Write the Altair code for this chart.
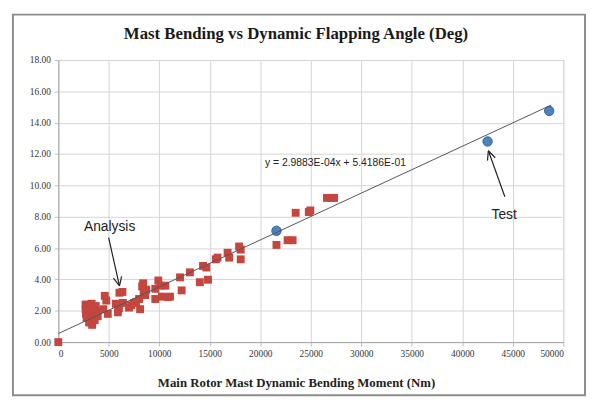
import altair as alt
import pandas as pd

# ---- data ----
analysis_x = [0, 2700, 2700, 2750, 2800, 3000, 3050, 3100, 3200, 3300, 3350, 3450, 3500, 3600,
              3700, 3800, 3900, 4450, 4600, 4750, 4900, 5700, 5900, 6000, 6050, 6350, 6400,
              7000, 7200, 7500, 7700, 8000, 8100, 8300, 8450, 8400, 8700, 8600, 9600, 9600,
              9900, 10100, 10260, 10600, 10850, 11060, 12050, 12210, 13030, 14010, 14330,
              14660, 14820, 15600, 15760, 16760, 16920, 17900, 18060, 18060,
              21600, 22700, 23200, 23500, 24800, 24950, 26600, 27000, 27300]
analysis_y = [0.00, 2.40, 2.10, 1.80, 1.55, 2.35, 1.25, 1.95, 1.60, 2.45, 1.10, 2.15, 1.75, 1.40,
              2.30, 1.95, 1.65, 2.10, 2.95, 2.65, 1.80, 2.45, 1.90, 2.15, 3.15, 3.20, 2.50,
              2.20, 2.35, 2.50, 2.55, 2.75, 2.10, 3.55, 3.20, 3.75, 3.35, 3.00, 3.40, 2.75,
              3.93, 3.60, 2.90, 3.60, 2.87, 2.90, 4.13, 3.30, 4.45, 3.82, 4.86,
              4.76, 3.98, 5.28, 5.39, 5.70, 5.39, 6.10, 5.90, 5.28,
              6.20, 6.50, 6.50, 8.25, 8.30, 8.40, 9.20, 9.20, 9.20]
test_x = [21600, 42500, 48600]
test_y = [7.10, 12.80, 14.75]

# trendline y = 2.9883E-04x + 5.4186E-01, over the data range
trend_x = [0, 48800]
slope, intercept = 2.9883e-4, 5.4186e-1
trend_y = [slope * v + intercept for v in trend_x]

x_ticks = [0, 5000, 10000, 15000, 20000, 25000, 30000, 35000, 40000, 45000, 50000]
y_ticks = [0, 2, 4, 6, 8, 10, 12, 14, 16, 18]

title_text = "Mast Bending vs Dynamic  Flapping Angle (Deg)"

# annotations (data units)
ann_text = ["Analysis", "Test"]
ann_x = [5080, 44140]
ann_y = [7.36, 8.12]
eq_text = "y = 2.9883E-04x  + 5.4186E-01"
eq_x, eq_y = 27440, 11.45
# arrows: segments (x, y, x2, y2)
arrow_segs = [
    (4980, 6.67, 6055, 3.59), (6270, 4.20, 6055, 3.59), (5459, 4.08, 6055, 3.59),
    (44209, 9.27, 42578, 12.21), (42490, 11.58, 42578, 12.21), (43262, 11.76, 42578, 12.21),
]

df_a = pd.DataFrame({"x": analysis_x, "y": analysis_y})
df_t = pd.DataFrame({"x": test_x, "y": test_y})
df_line = pd.DataFrame({"x": trend_x, "y": trend_y})
df_ann = pd.DataFrame({"t": ann_text, "x": ann_x, "y": ann_y})
df_eq = pd.DataFrame({"t": [eq_text], "x": [eq_x], "y": [eq_y]})
df_arr = pd.DataFrame(arrow_segs, columns=["x", "y", "x2", "y2"])

W, H = 512, 286
serif = "Liberation Serif"
narrow = "Liberation Sans Narrow, Arial Narrow, Liberation Sans"

xs = alt.Scale(domain=[0, 50000], nice=False)
ys = alt.Scale(domain=[0, 18], nice=False)

x_axis = alt.Axis(values=x_ticks, format="d", labelFont=serif, labelFontSize=9.5,
                  labelColor="#333333", tickSize=4, tickColor="#bfbfbf", domainColor="#a6a6a6",
                  gridColor="#d4d4d4", labelPadding=3, labelOverlap=False,
                  title="Main Rotor Mast Dynamic Bending Moment (Nm)",
                  titleFont=serif, titleFontSize=13, titleFontWeight="bold", titleColor="#222222",
                  titleX=241, titleY=45, titleBaseline="alphabetic", titleAnchor="middle")
y_axis = alt.Axis(values=y_ticks, format=".2f", labelFont=serif, labelFontSize=9.5,
                  labelColor="#333333", tickSize=4, tickColor="#bfbfbf", domainColor="#a6a6a6",
                  gridColor="#d4d4d4", labelPadding=4, labelOverlap=False, title=None)

X = alt.X("x:Q", scale=xs, axis=x_axis)
Y = alt.Y("y:Q", scale=ys, axis=y_axis)

frame = alt.Chart(pd.DataFrame({"a": [0]})).mark_rect(
    fill="transparent", stroke="#8c8c8c", strokeWidth=2
).encode(x=alt.value(-46), x2=alt.value(534), y=alt.value(-46), y2=alt.value(340))

title = alt.Chart(pd.DataFrame({"t": [title_text]})).mark_text(
    font=serif, fontSize=17, fontWeight="bold", color="#1a1a1a",
    align="center", baseline="alphabetic"
).encode(text="t:N", x=alt.value(241), y=alt.value(-21))

sq = alt.Chart(df_a).mark_point(shape="square", filled=True, size=64, color="#c4463f",
                                 opacity=1).encode(x=X, y=Y)
circ = alt.Chart(df_t).mark_point(shape="circle", filled=True, size=90, fill="#4f81bd",
                                   stroke="#2f5f95", strokeWidth=1, opacity=1).encode(x=X, y=Y)
line = alt.Chart(df_line).mark_line(color="#555555", strokeWidth=1).encode(x=X, y=Y)
arrows = alt.Chart(df_arr).mark_rule(color="#222222", strokeWidth=1.2).encode(
    x=X, y=Y, x2="x2:Q", y2="y2:Q")
ann = alt.Chart(df_ann).mark_text(font=narrow, fontSize=14, color="#222222",
                                  align="center", baseline="middle").encode(
    x=X, y=Y, text="t:N")
eq = alt.Chart(df_eq).mark_text(font=narrow, fontSize=10.5, color="#222222",
                                align="center", baseline="middle").encode(
    x=X, y=Y, text="t:N")

chart = alt.layer(frame, title, sq, circ, line, arrows, ann, eq).properties(
    width=W, height=H,
    autosize=alt.AutoSizeParams(type="none"),
    padding={"left": 51, "top": 50, "right": 24, "bottom": 56},
).configure_view(stroke="#d4d4d4").configure(background="white")

chart.save("out.html", embed_options={"renderer": "svg", "actions": False})
